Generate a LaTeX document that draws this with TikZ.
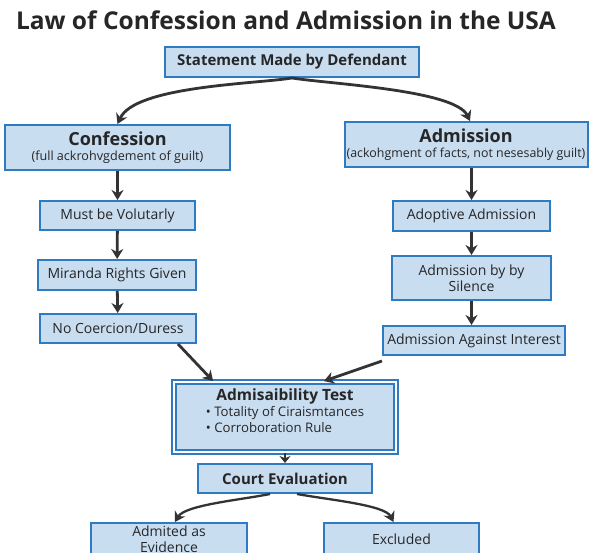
\documentclass[tikz,border=0pt]{standalone}
\usepackage{fontspec}
\setmainfont{Open Sans}
\usetikzlibrary{arrows.meta, positioning}
\definecolor{boxfill}{HTML}{C9DDF1}
\definecolor{boxline}{HTML}{2E7BC4}
\definecolor{arrowgray}{HTML}{333333}
\definecolor{textgray}{HTML}{262626}
\tikzset{
	lawbox/.style={draw=boxline, fill=boxfill, line width=2pt, inner sep=0pt,
		align=center, text=textgray, font=\fontsize{14}{16.5}\selectfont},
	flow/.style={draw=arrowgray, line width=2.8pt, -{Stealth[length=10pt,width=12pt]}},
}

\begin{document}
\begin{tikzpicture}[x=1pt,y=-1pt]
			\useasboundingbox (0,0) rectangle (589,553);
			\fill[white] (0,0) rectangle (589,553);

			% Titulo
			\node[text=textgray, font=\fontsize{24.5}{28}\selectfont\bfseries] (title) at (286,20)
				{Law of Confession and Admission in the USA};

			% Declaracion
			\node[lawbox, minimum width=254, minimum height=30, font=\fontsize{15}{18}\selectfont\bfseries]
				(stmt) at (292,62) {Statement Made by Defendant};

			% Rama izquierda: confesion
			\node[lawbox, minimum width=225, minimum height=45] (conf) at (117.5,147.5)
				{{\fontsize{18}{20}\selectfont\bfseries Confession}\\[-1pt]
				{\fontsize{12.6}{14}\selectfont (full ackrohvgdement of guilt)}};
			\node[lawbox, minimum width=155, minimum height=29] (must) at (117.5,215.5) {Must be Volutarly};
			\node[lawbox, minimum width=158, minimum height=30] (mir) at (117,275) {Miranda Rights Given};
			\node[lawbox, minimum width=156, minimum height=29] (noco) at (118,328.5) {No Coercion/Duress};

			% Rama derecha: admision
			\node[lawbox, minimum width=243, minimum height=45] (adm) at (466,144.5)
				{{\fontsize{18}{20}\selectfont\bfseries Admission}\\[-1pt]
				{\fontsize{12.4}{14}\selectfont (ackohgment of facts, not nesesably guilt)}};
			\node[lawbox, minimum width=157, minimum height=30] (adop) at (471.5,216) {Adoptive Admission};
			\node[lawbox, minimum width=159, minimum height=44] (sil) at (471.5,278) {Admission by by\\Silence};
			\node[lawbox, minimum width=182, minimum height=29] (agin) at (474,340.5) {Admission Against Interest};

			% Prueba de admisibilidad
			\node[lawbox, minimum width=222, minimum height=70, double=white, double distance=2.5pt,
				line width=1.8pt] (test) at (285,417)
				{{\fontsize{15.5}{18}\selectfont\bfseries Admisaibility Test}\\[-1pt]
				\begin{tabular}{@{}l@{}}
					\fontsize{13.2}{15}\selectfont • Totality of Ciraismtances\\
					\fontsize{13.2}{15}\selectfont • Corroboration Rule
				\end{tabular}\\[4pt]};
			\node[lawbox, minimum width=174, minimum height=29, font=\fontsize{15}{18}\selectfont\bfseries]
				(court) at (285,478.5) {Court Evaluation};

			% Resultado
			\node[lawbox, minimum width=156, minimum height=32] (yes) at (169,539) {Admited as\\Evidence};
			\node[lawbox, minimum width=155, minimum height=32] (no) at (401.5,539) {Excluded};

			% Flechas
			\draw[flow] (stmt.south) .. controls (255,84) and (135,86) .. (conf.north);
			\draw[flow] (stmt.south) .. controls (330,84) and (455,90) .. ([xshift=4]adm.north);
			\draw[flow] (conf) -- (must);
			\draw[flow] (must) -- (mir);
			\draw[flow] (mir) -- (noco);
			\draw[flow] (adm.south -| adop.north) -- (adop);
			\draw[flow] (adop) -- (sil);
			\draw[flow] (sil.south) -- (sil.south |- agin.north);
			\draw[flow] ([xshift=-19]noco.south east) -- ([xshift=40]test.north west);
			\draw[flow] ([yshift=-5]agin.south west) -- ([xshift=-73]test.north east);
			\draw[draw=arrowgray, line width=2.5pt, -{Stealth[length=7pt,width=11pt]}] (test) -- (court);
			\draw[flow, line width=2.3pt] ([xshift=-15]court.south) .. controls (240,500) and (185,505) .. ([xshift=6]yes.north);
			\draw[flow, line width=2.3pt] ([xshift=12]court.south) .. controls (330,500) and (385,505) .. ([xshift=-8]no.north);
		\end{tikzpicture}
\end{document}
